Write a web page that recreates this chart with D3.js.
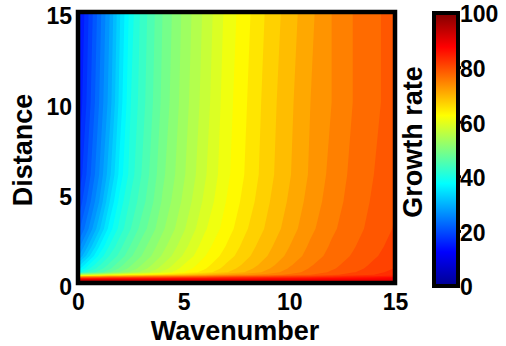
<!DOCTYPE html>
<html>
<head>
<meta charset="utf-8">
<script src="https://cdn.jsdelivr.net/npm/d3@7"></script>
<style>
  body { margin: 0; background: #fff; }
  text { font-family: "Liberation Sans", Arial, sans-serif; font-weight: bold; fill: #000; }
  .tick text { font-size: 23px; }
  .label { font-size: 27px; }
</style>
</head>
<body>
<svg id="chart" width="506" height="346"></svg>
<script>
// grid: columns = wavenumber, rows = distance
const wavenumber = [0, 0.5, 1, 1.5, 2, 2.5, 3, 4, 5, 6, 7, 8, 9, 10, 11, 12, 13, 14, 15];
const distance = [0, 0.2, 0.33, 0.45, 0.6, 0.8, 1, 1.5, 2, 3, 4.5, 6, 10, 15];
const growth = [
  [98, 97.5, 97, 96.5, 96, 95.5, 95, 94.5, 94, 93.5, 93, 92.8, 92.6, 92.4, 92.2, 92, 92, 92, 92],
  [91, 90.8, 90.6, 90.4, 90.2, 90, 89.8, 89.5, 89.3, 89.1, 88.9, 88.8, 88.7, 88.6, 88.6, 88.6, 88.7, 88.8, 89],
  [75, 76, 77, 77.5, 78, 78.5, 79, 79.5, 80, 80.7, 81.3, 82, 82.5, 83, 83.6, 84.2, 84.8, 85.4, 86],
  [55, 57, 59, 60.5, 62, 63, 64, 66, 68, 70, 72, 73.5, 75, 76.5, 78, 79.5, 81, 82, 83],
  [39, 42.5, 45, 48, 50.3, 52.5, 54.5, 58.5, 62, 65, 67.8, 70.3, 72.8, 75, 76.8, 78.3, 79.8, 81.3, 82.7],
  [35, 39.7, 43, 45.6, 48.5, 50.7, 52.9, 56.9, 60.8, 63.8, 66.8, 69.3, 71.8, 74.2, 76.2, 77.7, 79.2, 80.7, 82.1],
  [33, 38, 41.7, 44.6, 47.4, 49.8, 52, 56.1, 60.1, 63.2, 66.2, 68.7, 71.2, 73.7, 75.8, 77.4, 78.9, 80.4, 81.9],
  [27.5, 33.5, 38.5, 42.2, 44.8, 47.7, 50, 54.3, 58.3, 61.9, 64.9, 67.6, 70.1, 72.6, 74.9, 76.7, 78.2, 79.7, 81.2],
  [25, 30.5, 36, 40.4, 43.5, 46.3, 49, 53.3, 57.3, 61.1, 64.1, 67, 69.5, 72, 74.4, 76.3, 77.8, 79.3, 80.8],
  [21, 26, 31.5, 37, 41, 44, 46.8, 51.6, 55.7, 59.7, 62.9, 65.9, 68.5, 71, 73.5, 75.6, 77.2, 78.7, 80.2],
  [18, 23, 28, 34, 39, 42.5, 45, 50.3, 54.5, 58.5, 62, 65, 67.8, 70.3, 72.8, 75, 76.8, 78.3, 79.8],
  [16, 21, 26, 31.5, 37, 41, 44, 49.5, 53.7, 57.7, 61.4, 64.4, 67.3, 69.8, 72.3, 74.6, 76.5, 78, 79.5],
  [14, 19, 24, 29, 35, 40, 43, 48.5, 53, 57, 61, 64, 67, 69.5, 72, 74, 76, 77.5, 79],
  [13, 18, 23, 28, 34, 39, 42.5, 48, 52.5, 56.5, 60.5, 63.5, 66.5, 69, 71.5, 74, 76, 77.5, 79]
];
const levelStep = 2;
const levels = d3.range(0, 100, levelStep);
const xTicks = [0, 5, 10, 15];
const yTicks = [0, 5, 10, 15];
const cbTicks = [0, 20, 40, 60, 80, 100];

const svg = d3.select('#chart');

const x = d3.scaleLinear().domain([0, 15]).range([78, 395]);
const y = d3.scaleLinear().domain([0, 15]).range([283, 12]);
const cb = d3.scaleLinear().domain([0, 100]).range([286, 13]);

// matlab jet
const jet = d3.scaleLinear()
  .domain([0, 12.5, 37.5, 62.5, 87.5, 100])
  .range(['#000090', '#0000ff', '#00ffff', '#ffff00', '#ff0000', '#800000'])
  .clamp(true);

// filled contours, grid index -> data value through polylinear scales
const nk = wavenumber.length, nd = distance.length;
const kAt = d3.scaleLinear().domain(d3.range(nk)).range(wavenumber).clamp(true);
const dAt = d3.scaleLinear().domain(d3.range(nd)).range(distance).clamp(true);

const bands = d3.contours().size([nk, nd]).thresholds(levels)(growth.flat());
const path = d3.geoPath(d3.geoTransform({
  point(px, py) { this.stream.point(x(kAt(px - 0.5)), y(dAt(py - 0.5))); }
}));

svg.append('g')
  .selectAll('path')
  .data(bands)
  .join('path')
  .attr('d', path)
  .attr('fill', d => jet(d.value + levelStep / 2));

svg.append('rect')
  .attr('x', x(0)).attr('y', y(15))
  .attr('width', x(15) - x(0)).attr('height', y(0) - y(15))
  .attr('fill', 'none').attr('stroke', '#000').attr('stroke-width', 4.5);

// axes
const xAxis = svg.append('g')
  .attr('transform', `translate(0,${y(0)})`)
  .call(d3.axisBottom(x).tickValues(xTicks).tickSize(0).tickPadding(11));
xAxis.select('.domain').remove();

const yAxis = svg.append('g')
  .attr('transform', `translate(${x(0) - 1},0)`)
  .call(d3.axisLeft(y).tickValues(yTicks).tickSize(0).tickPadding(5));
yAxis.select('.domain').remove();
yAxis.selectAll('text').attr('dy', '0.51em');

svg.append('text').attr('class', 'label')
  .attr('x', 235).attr('y', 340)
  .attr('text-anchor', 'middle')
  .text('Wavenumber');

svg.append('text').attr('class', 'label')
  .attr('transform', 'translate(32,150) rotate(-90)')
  .attr('text-anchor', 'middle')
  .text('Distance');

// colorbar
const grad = svg.append('defs').append('linearGradient')
  .attr('id', 'jet').attr('x1', 0).attr('y1', 1).attr('x2', 0).attr('y2', 0);
grad.selectAll('stop')
  .data(jet.domain())
  .join('stop')
  .attr('offset', d => d / 100)
  .attr('stop-color', d => jet(d));

svg.append('rect')
  .attr('x', 434).attr('y', cb(100))
  .attr('width', 24).attr('height', cb(0) - cb(100))
  .attr('fill', 'url(#jet)').attr('stroke', '#000').attr('stroke-width', 4);

svg.append('g')
  .selectAll('line')
  .data(cbTicks.slice(1, -1))
  .join('line')
  .attr('x1', 456).attr('x2', 461)
  .attr('y1', d => cb(d)).attr('y2', d => cb(d))
  .attr('stroke', '#000').attr('stroke-width', 3);

const cAxis = svg.append('g')
  .attr('transform', 'translate(458,0)')
  .call(d3.axisRight(cb).tickValues(cbTicks).tickSize(0).tickPadding(2));
cAxis.select('.domain').remove();
cAxis.selectAll('text').attr('dy', '0.39em');

svg.append('text').attr('class', 'label')
  .attr('transform', 'translate(422,142) rotate(-90)')
  .attr('text-anchor', 'middle')
  .text('Growth rate');
</script>
</body>
</html>
